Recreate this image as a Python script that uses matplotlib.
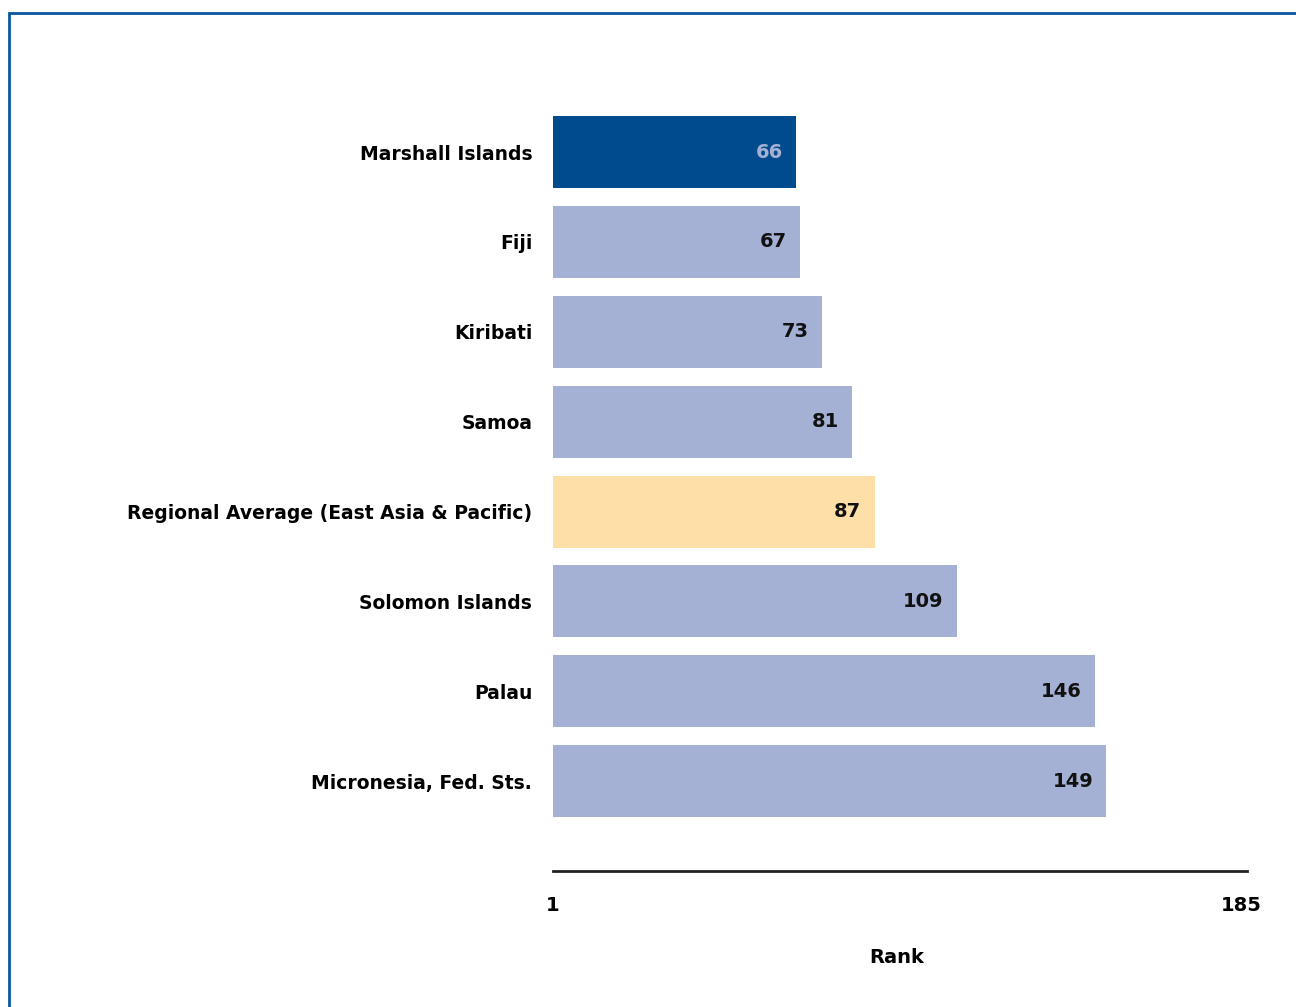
import matplotlib
matplotlib.use("Agg")
import matplotlib.pyplot as plt
from matplotlib.patches import Rectangle

countries = ["Marshall Islands", "Fiji", "Kiribati", "Samoa",
             "Regional Average (East Asia & Pacific)", "Solomon Islands",
             "Palau", "Micronesia, Fed. Sts."]
ranks = [66, 67, 73, 81, 87, 109, 146, 149]
rank_min, rank_max = 1, 185

dark = "#004B8D"
light = "#A5B1D4"
avg = "#FFDFA8"

colors = []
for c in countries:
    if c == "Marshall Islands":
        colors.append(dark)
    elif c.startswith("Regional"):
        colors.append(avg)
    else:
        colors.append(light)

fig = plt.figure(figsize=(12.96, 10.07), dpi=100)
ax = fig.add_axes([553/1296, (1007-871)/1007, (1241-553)/1296, (871-100)/1007])

ypos = list(range(len(countries)))
widths = [r - rank_min for r in ranks]
ax.barh(ypos, widths, left=rank_min, height=0.8, color=colors, edgecolor="none")

for y, r, col in zip(ypos, ranks, colors):
    tc = light if col == dark else "#111111"
    ax.annotate(str(r), xy=(r, y), xytext=(-9.5, 0), textcoords="offset points",
                ha="right", va="center", fontsize=14, fontweight="bold", color=tc)

ax.set_xlim(rank_min, rank_max)
ax.set_ylim(8.0, -0.58)
ax.set_yticks(ypos)
ax.set_yticklabels(countries, fontsize=13.5, fontweight="bold")
ax.tick_params(axis="y", length=0, pad=15)
ax.set_xticks([rank_min, rank_max])
ax.set_xticklabels([str(rank_min), str(rank_max)], fontsize=14, fontweight="bold")
ax.tick_params(axis="x", length=0, pad=18)
ax.set_xlabel("Rank", fontsize=14, fontweight="bold", labelpad=24)

for s in ["top", "right", "left"]:
    ax.spines[s].set_visible(False)
ax.spines["bottom"].set_linewidth(2)
ax.spines["bottom"].set_color("#222222")
ax.spines["bottom"].set_bounds(rank_min, rank_max + 1.5)

# frame around the figure
fig.patches.append(Rectangle((9/1296, -0.05), 1.1, (1007-13)/1007 + 0.05,
                             transform=fig.transFigure, fill=False,
                             edgecolor="#0B56A0", linewidth=2, clip_on=False))

fig.savefig("out.png", dpi=100)
